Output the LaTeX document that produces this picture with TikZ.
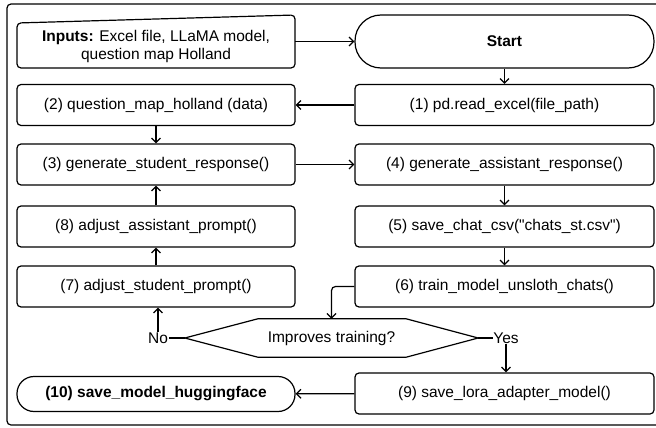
\documentclass[tikz,border=0pt]{standalone}
\usepackage{fontspec}
\setmainfont{Liberation Sans}
\usetikzlibrary{arrows.meta,calc}
\begin{document}
\begin{tikzpicture}[x=1pt,y=-1pt,
  txt/.style={font=\fontsize{15.5}{18}\selectfont},
  btxt/.style={font=\fontsize{15.5}{18}\selectfont\bfseries},
  box/.style={txt, draw, line width=1.2pt, rounded corners=4pt, minimum height=41pt, inner sep=0pt},
  lbox/.style={box, minimum width=278pt},
  rbox/.style={box, minimum width=299pt},
  ln/.style={line width=1.2pt},
  arr/.style={line width=1.2pt, -{Straight Barb[length=4.5pt,width=9pt]}}]
\clip (0,0) rectangle (656,428);
\draw[ln, rounded corners=4pt] (7,4) rectangle (664,425);

% inputs (manual input shape)
\node[txt, align=center, inner sep=0pt] (inp) at (156,46)
  {\textbf{Inputs:} Excel file, LLaMA model,\\question map Holland};
\draw[ln, rounded corners=4pt] ($(inp.center)+(-139,22)$) -- ($(inp.center)+(-139,-23)$)
  -- ($(inp.center)+(139,-31)$) -- ($(inp.center)+(139,22)$) -- cycle;
\coordinate (inpR) at ($(inp.center)+(139,-4.5)$);

\node[rbox, btxt, minimum height=53pt, rounded corners=26pt] (start) at (504.5,41.5) {Start};
\node[rbox] (n1) at (504.5,105) {(1) pd.read\_excel(file\_path)};
\node[lbox] (n2) at (156,105) {(2) question\_map\_holland (data)};
\node[lbox] (n3) at (156,164.5) {(3) generate\_student\_response()};
\node[rbox] (n4) at (504.5,164.5) {(4) generate\_assistant\_response()};
\node[rbox] (n5) at (504.5,226.5) {(5) save\_chat\_csv(\textquotedbl chats\_st.csv\textquotedbl)};
\node[lbox] (n8) at (156,226.5) {(8) adjust\_assistant\_prompt()};
\node[lbox] (n7) at (156,286.5) {(7) adjust\_student\_prompt()};
\node[rbox] (n6) at (504.5,286.5) {(6) train\_model\_unsloth\_chats()};
\node[txt, inner sep=0pt, minimum width=293pt, minimum height=38pt] (dia) at (331.5,338) {Improves training?};
\node[rbox] (n9) at (504.5,393.5) {(9) save\_lora\_adapter\_model()};
\node[lbox, btxt, minimum height=35pt, rounded corners=17pt] (n10) at (156,394) {(10) save\_model\_huggingface};
\node[txt, inner sep=0.5pt] (no) at (158,338) {No};
\node[txt, inner sep=0.5pt] (yes) at (506,338) {Yes};

\draw[ln] (dia.west) -- ($(dia.north west)+(73,0)$) -- ($(dia.north east)+(-72,0)$)
  -- (dia.east) -- ($(dia.south east)+(-72,0)$) -- ($(dia.south west)+(73,0)$) -- cycle;

\draw[arr] (inpR) -- (start.west);
\draw[arr] (start) -- (n1);
\draw[arr] (n1) -- (n2);
\draw[arr] (n2) -- (n3);
\draw[arr] (n3) -- (n4);
\draw[arr] (n4) -- (n5);
\draw[arr] (n5) -- (n6);
\draw[arr, rounded corners=4pt] (n6.west) -| (dia.north);
\draw[ln] (dia.west) -- (no.east);
\draw[arr] (no.north) -- (no.north |- n7.south);
\draw[arr] (n7) -- (n8);
\draw[arr] (n8) -- (n3);
\draw[ln] (dia.east) -- (yes.west);
\draw[arr] (yes.south) -- (yes.south |- n9.north);
\draw[arr] (n9) -- (n10);
\end{tikzpicture}
\end{document}
